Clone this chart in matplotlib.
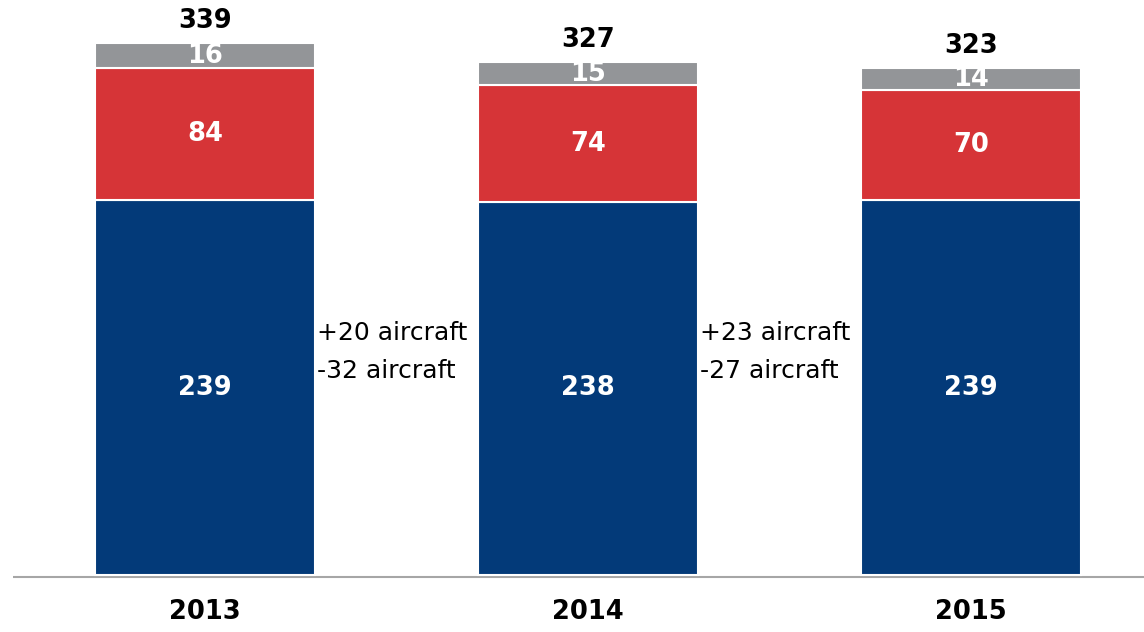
import matplotlib
matplotlib.use("Agg")
import matplotlib.pyplot as plt
import numpy as np

years = ["2013", "2014", "2015"]
blue_vals = [239, 238, 239]
red_vals = [84, 74, 70]
gray_vals = [16, 15, 14]
totals = [339, 327, 323]
changes = [["+20 aircraft", "-32 aircraft"], ["+23 aircraft", "-27 aircraft"]]

plt.rcParams['font.family'] = ['DejaVu Sans']

W, H = 1144, 632
fig = plt.figure(figsize=(W / 100, H / 100), dpi=100)
ax = fig.add_axes([0, 0, 1, 1])

px_per_x = 383.0
x0_px = 205.0
px_per_y = 1.569
base_px = 575.0
ax.set_xlim(-x0_px / px_per_x, (W - x0_px) / px_per_x)
ax.set_ylim(-(H - base_px) / px_per_y, base_px / px_per_y)
ax.axis('off')

x = np.arange(len(years))
width = 220 / px_per_x
blue_c = "#033a79"
red_c = "#d63437"
gray_c = "#939598"

ax.bar(x, blue_vals, width, color=blue_c, edgecolor="white", linewidth=1.5, zorder=3)
ax.bar(x, red_vals, width, bottom=blue_vals, color=red_c, edgecolor="white", linewidth=1.5, zorder=3)
bottoms2 = np.array(blue_vals) + np.array(red_vals)
ax.bar(x, gray_vals, width, bottom=bottoms2, color=gray_c, edgecolor="white", linewidth=1.5, zorder=3)

fs = 18.5
for i in range(len(years)):
    ax.text(x[i], blue_vals[i] / 2, str(blue_vals[i]), ha="center", va="center",
            color="white", fontsize=fs, fontweight="bold", zorder=4)
    ax.text(x[i], blue_vals[i] + red_vals[i] / 2, str(red_vals[i]), ha="center", va="center",
            color="white", fontsize=fs, fontweight="bold", zorder=4)
    ax.text(x[i], bottoms2[i] + gray_vals[i] / 2, str(gray_vals[i]), ha="center", va="center",
            color="white", fontsize=fs, fontweight="bold", zorder=4)
    ax.text(x[i], totals[i] + 14, str(totals[i]), ha="center", va="center",
            color="black", fontsize=fs, fontweight="bold", zorder=4)
    ax.text(x[i], -(612 - base_px) / px_per_y, years[i], ha="center", va="center",
            color="black", fontsize=fs, fontweight="bold", zorder=4)

for i, (a, b) in enumerate(changes):
    xt = x[i] + width / 2 + 2 / px_per_x
    ax.text(xt, (base_px - 333) / px_per_y, a, ha="left", va="center", fontsize=18, color="black")
    ax.text(xt, (base_px - 371) / px_per_y, b, ha="left", va="center", fontsize=18, color="black")

ax.plot([(13 - x0_px) / px_per_x, (W - x0_px) / px_per_x], [-1, -1], color="#a6a6a6",
        linewidth=1.5, zorder=2, solid_capstyle="butt")

fig.savefig("out.png", dpi=100, facecolor="white")
